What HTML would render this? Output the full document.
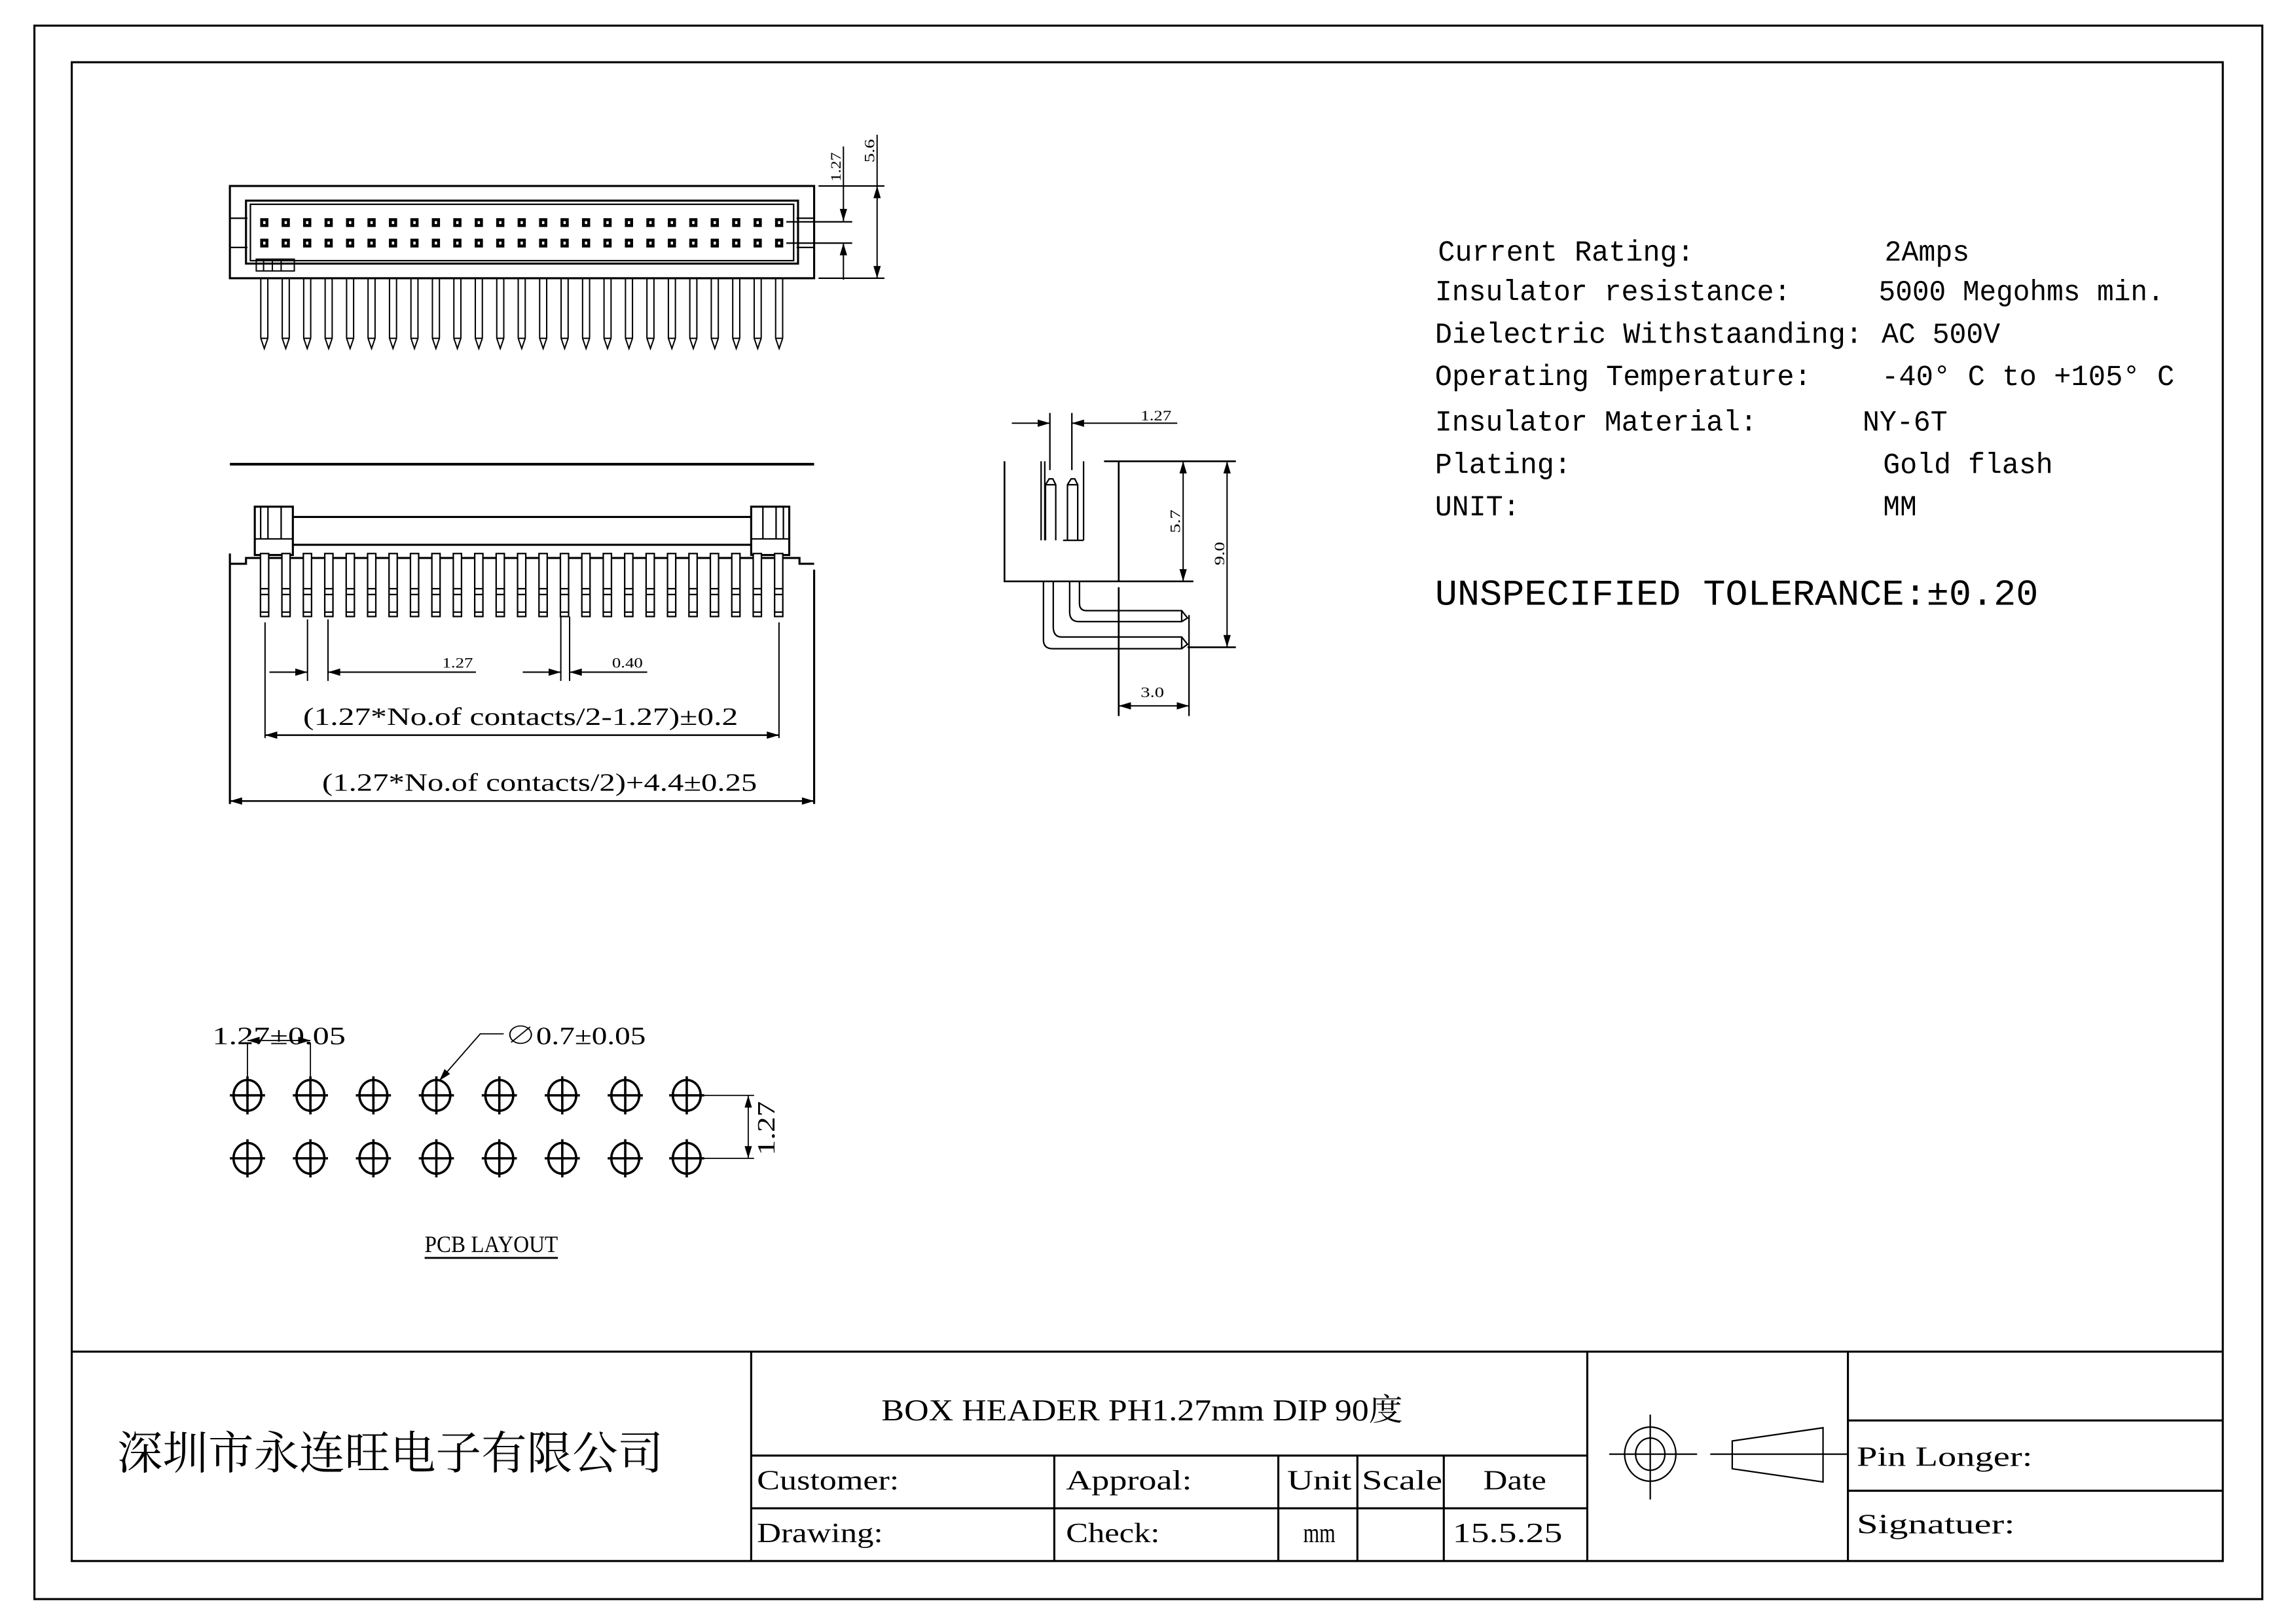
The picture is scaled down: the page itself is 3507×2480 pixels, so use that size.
<!DOCTYPE html>
<html><head><meta charset="utf-8"><style>
html,body{margin:0;padding:0;background:#fff;}
svg{display:block;}
text{font-family:"Liberation Serif","Noto Serif CJK SC",serif;fill:#000;}
.m{font-family:"Liberation Mono","Noto Sans CJK SC",monospace;}
</style></head><body>
<svg xmlns="http://www.w3.org/2000/svg" xmlns:xlink="http://www.w3.org/1999/xlink" width="3507" height="2480" viewBox="0 0 1568 1109" preserveAspectRatio="none">
<defs>
<marker id="a" viewBox="0 0 10 6" refX="10" refY="3" markerWidth="9" markerHeight="5" markerUnits="userSpaceOnUse" orient="auto-start-reverse"><path d="M0,0 L10,3 L0,6 z" fill="#000"/></marker>
<g id="tp">
<rect x="-2.8" y="149" width="5.6" height="6" fill="#000"/><rect x="-0.8" y="151" width="1.6" height="2" fill="#fff"/>
<rect x="-2.8" y="163" width="5.6" height="6" fill="#000"/><rect x="-0.8" y="165" width="1.6" height="2" fill="#fff"/>
<path d="M-2.4,190 V231 M2.4,190 V231 M-2.4,231 H2.4 M-2.4,231 L0,238 L2.4,231" fill="none" stroke="#000" stroke-width="0.9"/>
</g>
<g id="fp">
<rect x="-2.8" y="378" width="5.6" height="43" fill="#fff" stroke="#000" stroke-width="1"/>
<path d="M-2.8,402 H2.8 M-2.8,406 H2.8 M-2.8,418 H2.8" stroke="#000" stroke-width="1"/>
</g>
<g id="h">
<ellipse cx="0" cy="0" rx="9.5" ry="10.5" fill="none" stroke="#000" stroke-width="1.6"/>
<path d="M-12,0 H12 M0,-13 V13" stroke="#000" stroke-width="1.6"/>
</g>
</defs>
<rect x="0" y="0" width="1568" height="1109" fill="#fff"/>
<g fill="none" stroke="#000" stroke-width="1.4">
<rect x="23.5" y="17.5" width="1521.5" height="1074.5"/>
<rect x="49" y="42.5" width="1469" height="1023.5"/>
<!-- title block -->
<path d="M49,923 H1518 M513,923 V1066 M1084,923 V1066 M1262,923 V1066 M513,994 H1084 M513,1030 H1084 M720,994 V1066 M873,994 V1066 M927,994 V1066 M986,994 V1066 M1262,970 H1518 M1262,1018 H1518"/>
</g>
<!-- Title block symbol -->
<g fill="none" stroke="#000" stroke-width="1">
<ellipse cx="1127" cy="993" rx="17.5" ry="18.5"/>
<ellipse cx="1127" cy="993" rx="10" ry="11"/>
<path d="M1099,993 H1159 M1127,966 V1024 M1168,993 H1262 M1183,984 L1245,975 V1012 L1183,1003 Z"/>
</g>
<!-- title block text -->
<text x="80" y="1003" font-size="31" textLength="373" lengthAdjust="spacingAndGlyphs" style="font-family:'Noto Serif CJK SC',serif">深圳市永连旺电子有限公司</text>
<text x="602" y="970" font-size="21" textLength="356" lengthAdjust="spacingAndGlyphs">BOX HEADER PH1.27mm DIP 90度</text>
<g font-size="19">
<text x="517" y="1017" textLength="97" lengthAdjust="spacingAndGlyphs">Customer:</text>
<text x="728" y="1017" textLength="86" lengthAdjust="spacingAndGlyphs">Approal:</text>
<text x="879" y="1017" textLength="44" lengthAdjust="spacingAndGlyphs">Unit</text>
<text x="930" y="1017" textLength="55" lengthAdjust="spacingAndGlyphs">Scale</text>
<text x="1013" y="1017" textLength="43" lengthAdjust="spacingAndGlyphs">Date</text>
<text x="517" y="1053" textLength="86" lengthAdjust="spacingAndGlyphs">Drawing:</text>
<text x="728" y="1053" textLength="64" lengthAdjust="spacingAndGlyphs">Check:</text>
<text x="890" y="1053" textLength="22" lengthAdjust="spacingAndGlyphs">mm</text>
<text x="992" y="1053" textLength="75" lengthAdjust="spacingAndGlyphs">15.5.25</text>
<text x="1268" y="1001" textLength="120" lengthAdjust="spacingAndGlyphs">Pin Longer:</text>
<text x="1268" y="1047" textLength="108" lengthAdjust="spacingAndGlyphs">Signatuer:</text>
</g>
<!-- specs -->
<g class="m" font-size="20">
<text class="m" x="982" y="178" textLength="175" lengthAdjust="spacingAndGlyphs">Current Rating:</text>
<text class="m" x="1287" y="178" textLength="58" lengthAdjust="spacingAndGlyphs">2Amps</text>
<text class="m" x="980" y="205" textLength="243" lengthAdjust="spacingAndGlyphs">Insulator resistance:</text>
<text class="m" x="1283" y="205" textLength="195" lengthAdjust="spacingAndGlyphs">5000 Megohms min.</text>
<text class="m" x="980" y="234" textLength="292" lengthAdjust="spacingAndGlyphs">Dielectric Withstaanding:</text>
<text class="m" x="1285" y="234" textLength="81" lengthAdjust="spacingAndGlyphs">AC 500V</text>
<text class="m" x="980" y="263" textLength="257" lengthAdjust="spacingAndGlyphs">Operating Temperature:</text>
<text class="m" x="1285" y="263" textLength="200" lengthAdjust="spacingAndGlyphs">-40° C to +105° C</text>
<text class="m" x="980" y="294" textLength="220" lengthAdjust="spacingAndGlyphs">Insulator Material:</text>
<text class="m" x="1272" y="294" textLength="58" lengthAdjust="spacingAndGlyphs">NY-6T</text>
<text class="m" x="980" y="323" textLength="93" lengthAdjust="spacingAndGlyphs">Plating:</text>
<text class="m" x="1286" y="323" textLength="116" lengthAdjust="spacingAndGlyphs">Gold flash</text>
<text class="m" x="980" y="352" textLength="58" lengthAdjust="spacingAndGlyphs">UNIT:</text>
<text class="m" x="1286" y="352" textLength="23" lengthAdjust="spacingAndGlyphs">MM</text>
<text class="m" x="980" y="413" font-size="25" textLength="412" lengthAdjust="spacingAndGlyphs">UNSPECIFIED TOLERANCE:±0.20</text>
</g>

<!-- TOP VIEW -->
<g fill="none" stroke="#000" stroke-width="1.4">
<rect x="157" y="127" width="399" height="63"/>
<rect x="168" y="137" width="377" height="43"/>
<rect x="171" y="139.5" width="371" height="38.5" stroke-width="1"/>
<path d="M157,149 H169 M157,169 H169 M544,149 H556 M544,169 H556" stroke-width="1"/>
<path d="M175,177 H201 V185 H175 Z M180,177 V185 M186,177 V185 M192,177 V185" stroke-width="0.9"/>
<path d="M559,127 H604 M559,190 H604 M537,151.5 H582 M537,166 H582" stroke-width="1"/>
</g>
<g stroke="#000" stroke-width="0.9" fill="none">
<path d="M576,100 V151" marker-end="url(#a)"/>
<path d="M576,191 V166" marker-end="url(#a)"/>
<path d="M599,127 V190" marker-start="url(#a)" marker-end="url(#a)"/>
<path d="M599,92 V127"/>
</g>
<text x="0" y="0" font-size="10" transform="translate(574,124) rotate(-90)" textLength="20" lengthAdjust="spacingAndGlyphs">1.27</text>
<text x="0" y="0" font-size="10" transform="translate(597,111) rotate(-90)" textLength="16" lengthAdjust="spacingAndGlyphs">5.6</text>
<g>
<use xlink:href="#tp" x="180.5"/><use xlink:href="#tp" x="195.15"/><use xlink:href="#tp" x="209.8"/><use xlink:href="#tp" x="224.45"/><use xlink:href="#tp" x="239.1"/><use xlink:href="#tp" x="253.75"/><use xlink:href="#tp" x="268.4"/><use xlink:href="#tp" x="283.05"/><use xlink:href="#tp" x="297.7"/><use xlink:href="#tp" x="312.35"/><use xlink:href="#tp" x="327"/><use xlink:href="#tp" x="341.65"/><use xlink:href="#tp" x="356.3"/><use xlink:href="#tp" x="370.95"/><use xlink:href="#tp" x="385.6"/><use xlink:href="#tp" x="400.25"/><use xlink:href="#tp" x="414.9"/><use xlink:href="#tp" x="429.55"/><use xlink:href="#tp" x="444.2"/><use xlink:href="#tp" x="458.85"/><use xlink:href="#tp" x="473.5"/><use xlink:href="#tp" x="488.15"/><use xlink:href="#tp" x="502.8"/><use xlink:href="#tp" x="517.45"/><use xlink:href="#tp" x="532.1"/>
</g>

<!-- FRONT VIEW -->
<g fill="none" stroke="#000" stroke-width="1.4">
<path d="M157,317 H556" stroke-width="1.8"/>
<path d="M157,378 V549 M556,389 V549"/>
<path d="M157,385 H168 V381 H546 V385 H556"/>
<rect x="174" y="346" width="26" height="33" fill="#fff"/>
<path d="M174,368 H200 M178,346 V368 M183,346 V368 M192,346 V368" stroke-width="1"/>
<rect x="513" y="346" width="26" height="33" fill="#fff"/>
<path d="M513,368 H539 M521,346 V368 M530,346 V368 M535,346 V368" stroke-width="1"/>
<path d="M200,353 H513 M200,372 H513"/>
</g>
<g>
<use xlink:href="#fp" x="180.7"/><use xlink:href="#fp" x="195.33"/><use xlink:href="#fp" x="209.96"/><use xlink:href="#fp" x="224.59"/><use xlink:href="#fp" x="239.22"/><use xlink:href="#fp" x="253.85"/><use xlink:href="#fp" x="268.48"/><use xlink:href="#fp" x="283.11"/><use xlink:href="#fp" x="297.74"/><use xlink:href="#fp" x="312.37"/><use xlink:href="#fp" x="327"/><use xlink:href="#fp" x="341.63"/><use xlink:href="#fp" x="356.26"/><use xlink:href="#fp" x="370.89"/><use xlink:href="#fp" x="385.52"/><use xlink:href="#fp" x="400.15"/><use xlink:href="#fp" x="414.78"/><use xlink:href="#fp" x="429.41"/><use xlink:href="#fp" x="444.04"/><use xlink:href="#fp" x="458.67"/><use xlink:href="#fp" x="473.3"/><use xlink:href="#fp" x="487.93"/><use xlink:href="#fp" x="502.56"/><use xlink:href="#fp" x="517.19"/><use xlink:href="#fp" x="531.8"/>
</g>
<g fill="none" stroke="#000" stroke-width="0.9">
<path d="M181,425 V504 M532,425 V504 M210,423 V465 M224,423 V465 M383,421 V465 M389,421 V465"/>
<path d="M184,459 H210" marker-end="url(#a)"/>
<path d="M325,459 H224" marker-end="url(#a)"/>
<path d="M357,459 H383" marker-end="url(#a)"/>
<path d="M442,459 H389" marker-end="url(#a)"/>
<path d="M181,502 H532" marker-start="url(#a)" marker-end="url(#a)" stroke-width="1.1"/>
<path d="M157,547 H556" marker-start="url(#a)" marker-end="url(#a)" stroke-width="1.1"/>
</g>
<text x="302" y="456" font-size="10" textLength="21" lengthAdjust="spacingAndGlyphs">1.27</text>
<text x="418" y="456" font-size="10" textLength="21" lengthAdjust="spacingAndGlyphs">0.40</text>
<text x="207" y="495" font-size="17" textLength="297" lengthAdjust="spacingAndGlyphs">(1.27*No.of contacts/2-1.27)±0.2</text>
<text x="220" y="540" font-size="17" textLength="297" lengthAdjust="spacingAndGlyphs">(1.27*No.of contacts/2)+4.4±0.25</text>

<!-- SIDE VIEW -->
<g fill="none" stroke="#000" stroke-width="1.2">
<path d="M686,315 V397 H815 M764,315 V397 M764,401 V489 M754,315 H844 M811,442 H844"/>
<path d="M711,315 V369 M713.5,315 V369 M740,315 V369 M726,369 H740" stroke-width="1"/>
<path d="M714,369 V331 L716.5,327 H719 L721,331 V369 M714,331 H721 M729,369 V331 L731.5,327 H734 L736,331 V369 M729,331 H736" stroke-width="1"/>
<path d="M712.6,397 V437 Q712.6,443 719,443 H807 L811,440 L807,435 H725 Q719.3,435 719.3,428 V397 M807,435 V443" stroke-width="1"/>
<path d="M730.5,397 V418 Q730.5,424.5 737,424.5 H807 L811,422 L807,417 H742 Q737.2,417 737.2,412 V397 M807,417 V424.5" stroke-width="1"/>
<path d="M812,420 V489 M717,282 V321 M732,282 V321" stroke-width="1"/>
</g>
<g fill="none" stroke="#000" stroke-width="0.9">
<path d="M691,289 H717" marker-end="url(#a)"/>
<path d="M804,289 H732" marker-end="url(#a)"/>
<path d="M764,482 H812" marker-start="url(#a)" marker-end="url(#a)"/>
<path d="M808,315 V397" marker-start="url(#a)" marker-end="url(#a)"/>
<path d="M838,315 V442" marker-start="url(#a)" marker-end="url(#a)"/>
</g>
<text x="779" y="287" font-size="10" textLength="21" lengthAdjust="spacingAndGlyphs">1.27</text>
<text x="779" y="476" font-size="10" textLength="16" lengthAdjust="spacingAndGlyphs">3.0</text>
<text x="0" y="0" font-size="10" transform="translate(806,364) rotate(-90)" textLength="16" lengthAdjust="spacingAndGlyphs">5.7</text>
<text x="0" y="0" font-size="10" transform="translate(836,386) rotate(-90)" textLength="16" lengthAdjust="spacingAndGlyphs">9.0</text>

<!-- PCB LAYOUT -->
<g>
<use xlink:href="#h" x="169" y="748"/><use xlink:href="#h" x="212" y="748"/><use xlink:href="#h" x="255" y="748"/><use xlink:href="#h" x="298" y="748"/><use xlink:href="#h" x="341" y="748"/><use xlink:href="#h" x="384" y="748"/><use xlink:href="#h" x="427" y="748"/><use xlink:href="#h" x="469" y="748"/>
<use xlink:href="#h" x="169" y="791"/><use xlink:href="#h" x="212" y="791"/><use xlink:href="#h" x="255" y="791"/><use xlink:href="#h" x="298" y="791"/><use xlink:href="#h" x="341" y="791"/><use xlink:href="#h" x="384" y="791"/><use xlink:href="#h" x="427" y="791"/><use xlink:href="#h" x="469" y="791"/>
</g>
<g fill="none" stroke="#000" stroke-width="0.8">
<path d="M169,712 V735 M212,712 V735"/>
<path d="M169,710.5 H212" marker-start="url(#a)" marker-end="url(#a)"/>
<path d="M344,706 H328 L300,738" marker-end="url(#a)"/>
<path d="M481,748 H515 M481,791 H515"/>
<path d="M511,748 V791" marker-start="url(#a)" marker-end="url(#a)"/>
<path d="M290,859 H381" stroke-width="1.3"/>
</g>
<text x="145" y="713" font-size="17" textLength="91" lengthAdjust="spacingAndGlyphs">1.27±0.05</text>
<text x="345" y="713" font-size="17" textLength="96" lengthAdjust="spacingAndGlyphs">∅0.7±0.05</text>
<text x="0" y="0" font-size="17" transform="translate(529,789) rotate(-90)" textLength="37" lengthAdjust="spacingAndGlyphs">1.27</text>
<text x="290" y="855" font-size="16" textLength="91" lengthAdjust="spacingAndGlyphs">PCB LAYOUT</text>
</svg>
</body></html>
